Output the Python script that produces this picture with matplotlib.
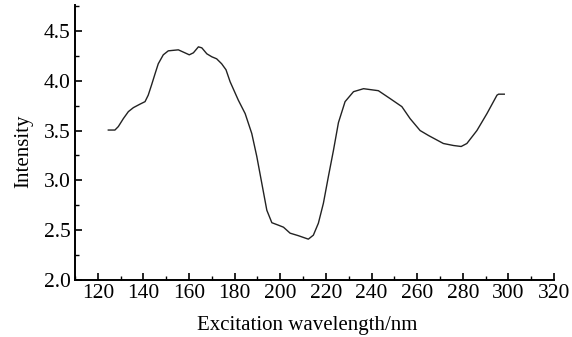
import matplotlib
matplotlib.use("Agg")
import matplotlib.pyplot as plt
from matplotlib.ticker import MultipleLocator

# excitation spectrum
wavelength = [124.6, 127.5, 129.0, 131.2, 133.4, 135.6, 138.5, 140.7, 142.1, 143.6,
              145.1, 146.5, 148.7, 150.9, 155.3, 158.2, 160.1, 161.9, 164.1, 165.6,
              167.8, 170.0, 172.1, 174.3, 176.2, 178.0, 181.6, 184.6, 187.5, 189.7,
              191.9, 194.1, 196.3, 199.2, 201.4, 204.3, 207.9, 212.3, 214.5, 216.7,
              218.9, 221.1, 223.3, 225.5, 228.4, 232.1, 236.5, 243.0, 248.2, 253.3,
              256.9, 261.3, 265.0, 271.5, 275.9, 279.3, 281.8, 286.2, 290.6, 295.0,
              295.7, 298.2]
intensity = [3.505, 3.505, 3.54, 3.62, 3.69, 3.73, 3.765, 3.79, 3.855, 3.96,
             4.07, 4.17, 4.26, 4.30, 4.31, 4.28, 4.26, 4.28, 4.34, 4.33,
             4.27, 4.24, 4.22, 4.17, 4.11, 3.99, 3.805, 3.67, 3.47, 3.24,
             2.97, 2.70, 2.575, 2.55, 2.53, 2.47, 2.445, 2.41, 2.45, 2.57,
             2.77, 3.04, 3.30, 3.58, 3.79, 3.89, 3.92, 3.90, 3.82, 3.74,
             3.62, 3.50, 3.45, 3.37, 3.35, 3.34, 3.37, 3.50, 3.67, 3.855,
             3.865, 3.865]

x_ticks = [120, 140, 160, 180, 200, 220, 240, 260, 280, 300, 320]
y_ticks = [2.0, 2.5, 3.0, 3.5, 4.0, 4.5]

plt.rcParams["font.family"] = ["Liberation Serif", "DejaVu Serif"]

fig = plt.figure(figsize=(5.72, 3.37), dpi=100)
ax = fig.add_axes([75 / 572, 57 / 337, 479 / 572, 275 / 337])

ax.plot(wavelength, intensity, color="#222222", linewidth=1.0)

ax.set_xlim(110, 320)
ax.set_ylim(2.0, 4.76)
ax.set_xticks(x_ticks)
ax.set_yticks(y_ticks)
ax.set_yticklabels([f"{v:.1f}" for v in y_ticks])
ax.xaxis.set_minor_locator(MultipleLocator(10))
ax.yaxis.set_minor_locator(MultipleLocator(0.25))

ax.spines["top"].set_visible(False)
ax.spines["right"].set_visible(False)
ax.spines["left"].set_linewidth(1.4)
ax.spines["bottom"].set_linewidth(1.4)

ax.tick_params(which="major", direction="in", length=5, width=1.2, labelsize=15.5, pad=3)
ax.tick_params(which="minor", direction="in", length=3, width=1.0)

ax.set_xlabel("Excitation wavelength/nm", fontsize=15, labelpad=9, x=0.485)
ax.set_ylabel("Intensity", fontsize=15, labelpad=8, y=0.467)

fig.savefig("out.png", dpi=100)
